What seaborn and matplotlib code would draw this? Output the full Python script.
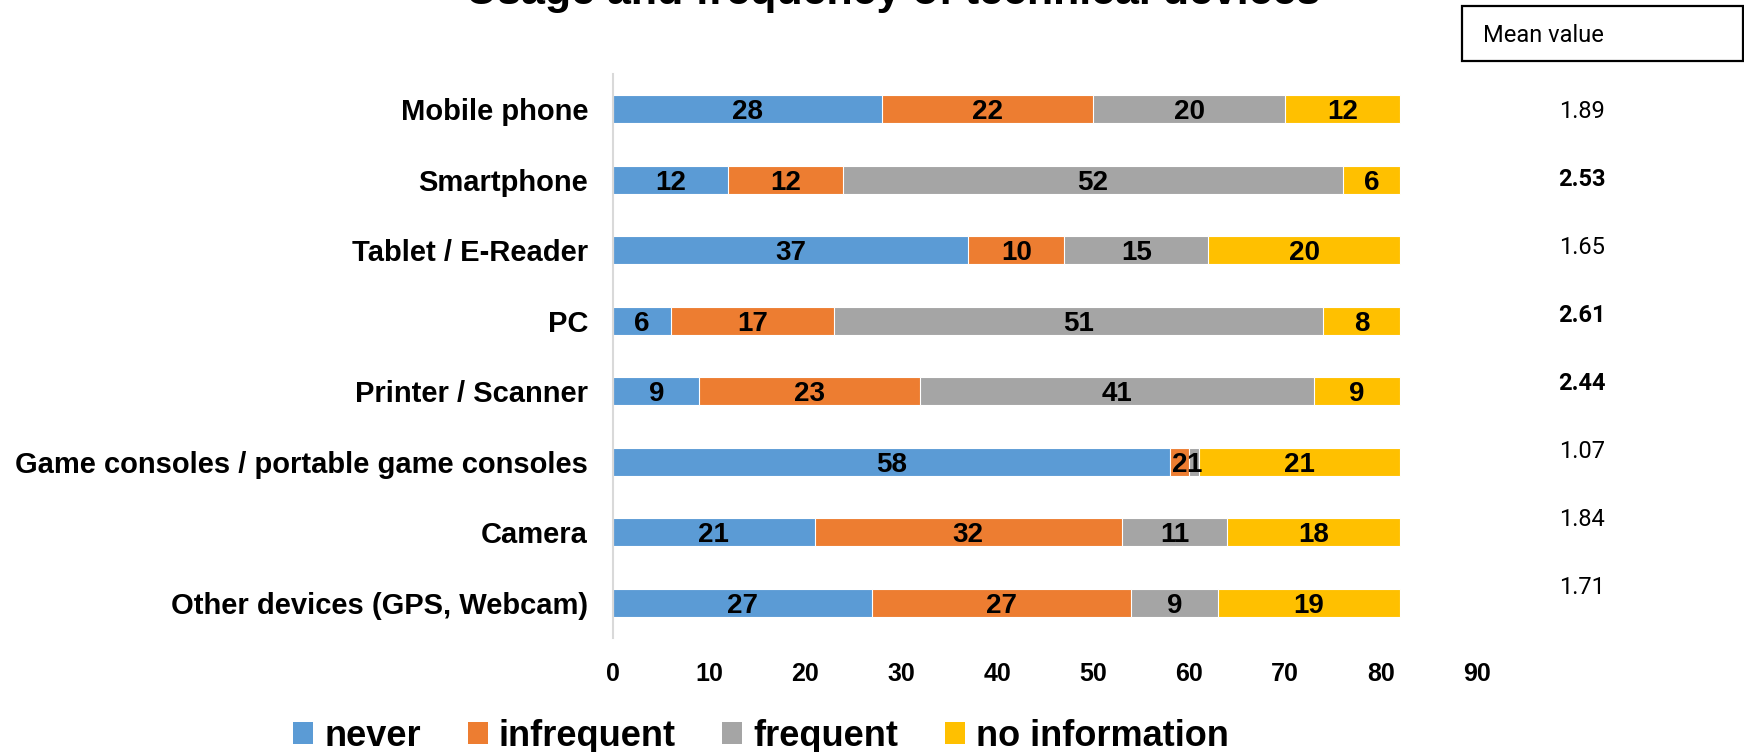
import matplotlib
matplotlib.use("Agg")
import matplotlib.pyplot as plt
from matplotlib.patches import Patch, Rectangle
import numpy as np
import pandas as pd
import seaborn as sns

# --- data -------------------------------------------------------------
devices = [
    "Mobile phone",
    "Smartphone",
    "Tablet / E-Reader",
    "PC",
    "Printer / Scanner",
    "Game consoles / portable game consoles",
    "Camera",
    "Other devices (GPS, Webcam)",
]
never = [28, 12, 37, 6, 9, 58, 21, 27]
infrequent = [22, 12, 10, 17, 23, 2, 32, 27]
frequent = [20, 52, 15, 51, 41, 1, 11, 9]
no_information = [12, 6, 20, 8, 9, 21, 18, 19]
mean_values = [1.89, 2.53, 1.65, 2.61, 2.44, 1.07, 1.84, 1.71]
mean_bold = [False, True, False, True, True, False, False, False]
series_names = ["never", "infrequent", "frequent", "no information"]
x_ticks = [0, 10, 20, 30, 40, 50, 60, 70, 80, 90]

colors = ["#5B9BD5", "#ED7D31", "#A5A5A5", "#FFC000"]

# --- style ------------------------------------------------------------
sns.set_theme(style="white")
plt.rcParams["font.family"] = ["Liberation Sans", "DejaVu Sans"]
plt.rcParams["text.color"] = "black"
plt.rcParams["xtick.color"] = "black"
plt.rcParams["ytick.color"] = "black"

LABEL_FONT = ["Liberation Sans", "DejaVu Sans"]
NUM_FONT = ["Roboto", "DejaVu Sans"]

fig = plt.figure(figsize=(17.44, 7.52), dpi=100)
W, H = 1744, 752
ax = fig.add_axes([613 / W, 1 - 638 / H, (1477 - 613) / W, (638 - 74) / H])

series = [never, infrequent, frequent, no_information]
df = pd.DataFrame({name: vals for name, vals in zip(series_names, series)})
df["device"] = devices
cum = df[series_names].cumsum(axis=1)

# stacked bars: draw cumulative totals from the longest down to the shortest
for name, col in reversed(list(zip(series_names, colors))):
    sns.barplot(
        x=cum[name].values, y=df["device"], orient="h", order=devices,
        color=col, width=0.4, edgecolor="white", linewidth=0.8,
        saturation=1, ax=ax,
    )

# segment value labels
for i in range(len(devices)):
    start = 0
    for name in series_names:
        v = df.loc[i, name]
        ax.text(start + v / 2, i, f"{v}", ha="center", va="center_baseline",
                fontsize=20, fontweight="bold", family=LABEL_FONT,
                color="black")
        start += v

ax.set_xlim(0, 90)
ax.set_ylim(len(devices) - 0.5, -0.5)
ax.set_xticks(x_ticks)
ax.set_xticklabels([str(t) for t in x_ticks], fontsize=18, fontweight="bold",
                   family=LABEL_FONT)
ax.set_yticks(range(len(devices)))
ax.set_yticklabels(devices, fontsize=21, fontweight="bold", family=LABEL_FONT)
ax.tick_params(axis="x", length=0, pad=17)
ax.tick_params(axis="y", length=0, pad=18)
ax.set_xlabel("")
ax.set_ylabel("")
for s in ["top", "right", "bottom"]:
    ax.spines[s].set_visible(False)
ax.spines["left"].set_color("#D9D9D9")
ax.spines["left"].set_linewidth(1.5)

# title (sits at the very top edge)
fig.text(893 / W, 1 - 4 / H, "Usage and frequency of technical devices",
         ha="center", va="baseline", fontsize=31, fontweight="bold",
         family=LABEL_FONT)

# mean value header box
fig.patches.append(Rectangle((1462 / W, 1 - 61 / H), (1743 - 1462) / W, 55 / H,
                             transform=fig.transFigure, facecolor="white",
                             edgecolor="black", linewidth=1.6))
fig.text(1483 / W, 1 - 35 / H, "Mean value", ha="left", va="center",
         fontsize=17, family=NUM_FONT)

# mean value column
mx = fig.add_axes([1464 / W, 1 - 622 / H, 280 / W, 544 / H])
mx.set_xlim(0, 1)
mx.set_ylim(len(devices) - 0.5, -0.5)
mx.axis("off")
for i, (m, b) in enumerate(zip(mean_values, mean_bold)):
    mx.text(0.42, i, f"{m:.2f}", ha="center", va="center", fontsize=17,
            fontweight="bold" if b else "normal", family=NUM_FONT)

# legend
handles = [Patch(facecolor=c, edgecolor="none") for c in colors]
fig.legend(handles, series_names, loc="center", ncol=4,
           bbox_to_anchor=(761 / W, 1 - 736 / H), frameon=False,
           prop={"family": LABEL_FONT, "weight": "bold", "size": 26},
           handlelength=0.55, handleheight=0.55, handletextpad=0.3,
           columnspacing=1.3)

fig.savefig("out.png", dpi=100)
